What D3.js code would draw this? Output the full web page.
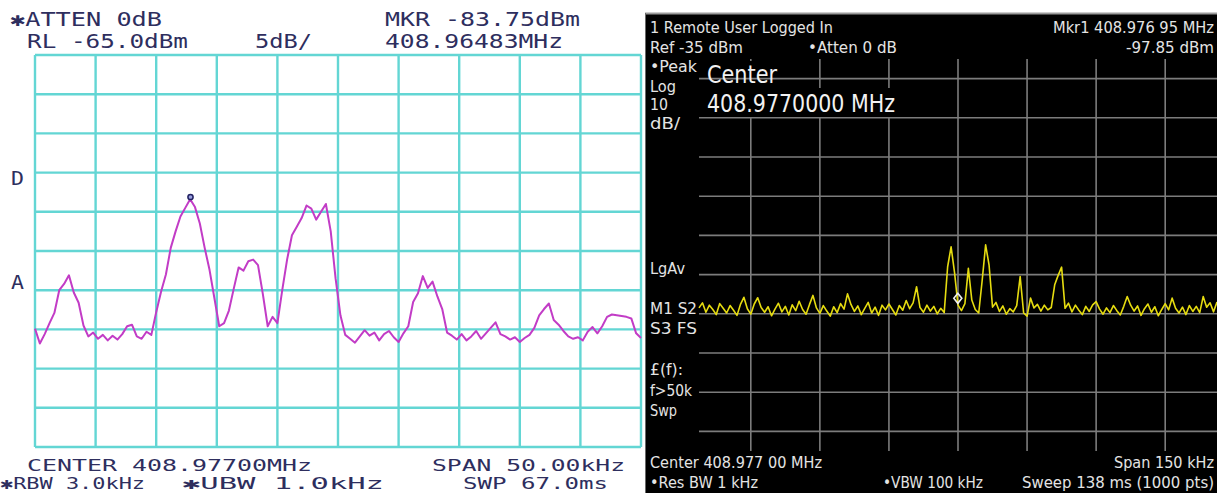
<!DOCTYPE html>
<html><head><meta charset="utf-8">
<script src="https://cdn.jsdelivr.net/npm/d3@7"></script>
<style>html,body{margin:0;padding:0;background:#fff;overflow:hidden}</style>
</head><body>
<svg id="c" width="1217" height="493"></svg>
<script>
// ---------- DATA ----------
// Left analyzer: span 50 kHz around 408.977 MHz, sampled every 0.4 kHz, level in dBm
const leftStartKHz = -25, leftStepKHz = 0.4;
const leftLevels = [
 -99.9,-101.8,-100.6,-99.2,-97.9,-95.0,-94.2,-93.1,-95.3,-96.6,
 -99.5,-100.9,-100.4,-101.2,-100.7,-101.4,-100.8,-101.3,-100.6,-99.6,
 -99.4,-100.9,-101.2,-100.3,-100.7,-97.8,-95.2,-93.0,-89.6,-87.5,
 -85.6,-84.5,-83.4,-84.4,-86.5,-89.6,-92.4,-96.0,-99.6,-99.2,
 -97.6,-94.8,-92.1,-92.5,-91.3,-91.1,-91.8,-95.5,-99.6,-98.4,
 -99.2,-95.0,-91.1,-88.0,-86.9,-85.8,-84.2,-84.6,-86.0,-85.0,
 -84.0,-87.5,-93.5,-98.2,-100.7,-101.2,-101.7,-100.9,-100.1,-100.8,
 -100.4,-101.4,-100.6,-100.2,-101.0,-101.6,-100.5,-99.6,-96.5,-95.4,
 -93.2,-94.7,-93.9,-95.8,-97.4,-100.4,-100.8,-101.3,-100.6,-101.4,
 -100.9,-100.2,-101.2,-100.5,-99.8,-99.1,-100.6,-100.9,-101.3,-101.0,
 -101.6,-101.1,-100.7,-99.8,-98.2,-97.4,-96.7,-98.8,-99.4,-100.2,
 -100.9,-101.2,-101.0,-101.4,-100.3,-99.7,-100.5,-99.6,-98.4,-98.1,
 -98.2,-98.3,-98.4,-98.6,-100.5,-101.1];
const leftMarkerKHz = -12.17, leftMarkerDbm = -83.75;
const leftRefDbm = -65, leftDbPerDiv = 5;

// Right analyzer: span 150 kHz around 408.977 MHz, sampled every 1 kHz, level in dBm
const rightStartKHz = -75, rightStepKHz = 1;
const rightLevels = [
 -98.5,-97.2,-99.6,-97.8,-98.9,-100.2,-97.4,-98.6,-99.8,-97.9,
 -99.1,-100.4,-97.6,-95.8,-98.7,-100.1,-97.5,-95.9,-98.4,-99.6,
 -98.2,-100.5,-98.8,-97.3,-99.5,-98.1,-100.3,-97.7,-99.2,-96.8,
 -98.9,-100.1,-97.6,-95.3,-98.5,-99.9,-97.9,-99.3,-100.6,-98.2,
 -99.7,-97.4,-98.8,-94.9,-97.6,-99.4,-98.0,-100.2,-98.6,-97.1,
 -99.8,-98.3,-100.4,-97.8,-99.0,-97.5,-98.9,-100.3,-97.9,-99.1,
 -96.6,-98.7,-97.2,-93.1,-98.4,-99.6,-97.8,-99.3,-98.1,-100.0,
 -98.6,-99.7,-88.0,-82.9,-89.5,-97.8,-99.2,-97.4,-88.4,-96.5,
 -98.9,-99.8,-91.5,-82.4,-87.6,-98.3,-97.1,-99.4,-98.0,-100.1,
 -98.7,-99.5,-97.9,-90.5,-99.8,-100.6,-96.0,-98.5,-97.6,-99.3,
 -97.8,-99.0,-98.4,-92.6,-90.2,-88.1,-98.6,-97.3,-99.5,-97.8,
 -99.1,-100.2,-98.1,-99.4,-97.7,-96.9,-98.8,-100.1,-98.5,-99.7,
 -97.9,-99.2,-100.3,-98.1,-95.6,-97.8,-99.3,-98.0,-100.4,-98.7,
 -97.5,-99.6,-98.2,-100.5,-98.9,-97.4,-99.0,-96.0,-98.6,-99.8,
 -98.3,-100.2,-97.9,-99.4,-98.1,-99.7,-95.6,-98.3,-97.2,-99.5,
 -97.0];
const rightMarkerKHz = -0.05, rightMarkerDbm = -97.85;
const rightRefDbm = -35, rightDbPerDiv = 10;

// Texts
const leftTopTexts = [
 ["✱ATTEN 0dB", 10, 26, 152], ["RL -65.0dBm", 27, 48, 161], ["5dB/", 255, 48, 57],
 ["MKR -83.75dBm", 385, 26, 195], ["408.96483MHz", 385, 48, 178],
 ["D", 11, 185, 13], ["A", 11, 289, 13]];
const leftBottomTexts = [
 ["CENTER 408.97700MHz", 27, 471, 285], ["SPAN 50.00kHz", 432, 471, 193],
 ["✱RBW 3.0kHz", 0, 489, 145], ["✱UBW 1.0kHz", 182, 489, 202], ["SWP 67.0ms", 463, 489, 145]];
const rightTexts = [
 ["1 Remote User Logged In", 650, 33, 183], ["Mkr1  408.976 95 MHz", 1053, 33, 161],
 ["Ref -35 dBm", 650, 53, 93], ["•Atten 0 dB", 808, 53, 89], ["-97.85 dBm", 1126, 53, 88],
 ["•Peak", 650, 72, 47], ["Log", 650, 92, 26], ["10", 650, 110, 18], ["dB/", 650, 129, 30],
 ["LgAv", 650, 274, 35], ["M1  S2", 650, 314, 47], ["S3  FS", 650, 334, 47],
 ["£(f):", 650, 375, 33], ["f>50k", 650, 396, 42], ["Swp", 650, 416, 27],
 ["Center 408.977 00 MHz", 650, 468, 172], ["Span 150 kHz", 1114, 468, 100],
 ["•Res BW 1 kHz", 650, 488, 108], ["•VBW 100 kHz", 883, 488, 100],
 ["Sweep 138 ms (1000 pts)", 1022, 488, 192]];
const centerBoxTexts = [["Center", 707, 83, 70], ["408.9770000 MHz", 707, 112, 188]];

// ---------- DRAW ----------
const svg = d3.select("#c");
function addText(g, arr, size, fill, family, weight) {
  g.selectAll(null).data(arr).enter().append("text")
    .attr("x", d => d[1]).attr("y", d => d[2])
    .attr("textLength", d => d[3]).attr("lengthAdjust", "spacingAndGlyphs")
    .attr("font-family", family).attr("font-size", size).attr("fill", fill)
    .attr("font-weight", weight || "normal")
    .text(d => d[0]);
}

// Left panel
const xL = d3.scaleLinear().domain([-25, 25]).range([35, 641]);
const yL = d3.scaleLinear().domain([leftRefDbm - 10 * leftDbPerDiv, leftRefDbm]).range([447, 55]);
const gL = svg.append("g");
gL.append("rect").attr("x", 0).attr("y", 0).attr("width", 645).attr("height", 493).attr("fill", "#fff");
const gridCol = "#63d6d4";
gL.selectAll("line.v").data(xL.ticks(10)).enter().append("line")
  .attr("x1", d => xL(d)).attr("x2", d => xL(d)).attr("y1", yL.range()[1]).attr("y2", yL.range()[0])
  .attr("stroke", gridCol).attr("stroke-width", 2.4);
gL.selectAll("line.h").data(yL.ticks(10)).enter().append("line")
  .attr("y1", d => yL(d)).attr("y2", d => yL(d)).attr("x1", xL.range()[0]).attr("x2", xL.range()[1])
  .attr("stroke", gridCol).attr("stroke-width", 2.4);
const leftData = leftLevels.map((v, i) => [leftStartKHz + i * leftStepKHz, v]);
gL.append("path").datum(leftData)
  .attr("d", d3.line().x(d => xL(d[0])).y(d => yL(d[1])))
  .attr("fill", "none").attr("stroke", "#c23cc6").attr("stroke-width", 2).attr("stroke-linejoin", "round");
gL.append("circle").attr("cx", xL(leftMarkerKHz)).attr("cy", yL(leftMarkerDbm) - 5).attr("r", 2.6)
  .attr("fill", "#9aa0e0").attr("stroke", "#202060").attr("stroke-width", 1.5);
addText(gL, leftTopTexts, 19, "#2e2e5e", "'DejaVu Sans Mono', monospace");
addText(gL, leftBottomTexts, 16, "#2e2e5e", "'DejaVu Sans Mono', monospace");

// Right panel
const xR = d3.scaleLinear().domain([-75, 75]).range([699, 1217]);
const yR = d3.scaleLinear().domain([rightRefDbm - 10 * rightDbPerDiv, rightRefDbm]).range([451, 59]);
const gR = svg.append("g");
gR.append("rect").attr("x", 645).attr("y", 14).attr("width", 572).attr("height", 479).attr("fill", "#000");
gR.append("line").attr("x1", 645).attr("x2", 1217).attr("y1", 13.5).attr("y2", 13.5).attr("stroke", "#9a9a9a").attr("stroke-width", 2);
gR.append("line").attr("x1", 645.5).attr("x2", 645.5).attr("y1", 13).attr("y2", 493).attr("stroke", "#6a6a6a").attr("stroke-width", 1);
const gridR = "#7c7c7c";
gR.selectAll("line.v").data(xR.ticks(10)).enter().append("line")
  .attr("x1", d => xR(d)).attr("x2", d => xR(d)).attr("y1", yR.range()[1]).attr("y2", yR.range()[0])
  .attr("stroke", gridR).attr("stroke-width", 1.6);
// black label box over grid
gR.append("rect").attr("x", 701).attr("y", 61).attr("width", 99).attr("height", 30).attr("fill", "#000");
gR.append("rect").attr("x", 706).attr("y", 88).attr("width", 188).attr("height", 29).attr("fill", "#000");
gR.selectAll("line.h").data(yR.ticks(10)).enter().append("line")
  .attr("y1", d => yR(d)).attr("y2", d => yR(d)).attr("x1", xR.range()[0]).attr("x2", xR.range()[1])
  .attr("stroke", gridR).attr("stroke-width", 1.6)
  .attr("stroke-dasharray", d => Math.abs(yR(d) - 98) < 3 ? "7,188,1000" : null);
const rightData = rightLevels.map((v, i) => [rightStartKHz + i * rightStepKHz, v]);
gR.append("path").datum(rightData)
  .attr("d", d3.line().x(d => xR(d[0])).y(d => yR(d[1])))
  .attr("fill", "none").attr("stroke", "#e6dc10").attr("stroke-width", 1.6).attr("stroke-linejoin", "round");
const mx = xR(rightMarkerKHz), my = yR(rightMarkerDbm) - 7;
gR.append("path").attr("d", `M${mx},${my - 5}L${mx + 4},${my}L${mx},${my + 5}L${mx - 4},${my}Z`)
  .attr("fill", "none").attr("stroke", "#f0f0f0").attr("stroke-width", 1.6);
addText(gR, rightTexts, 15, "#e4e4e4", "'DejaVu Sans', sans-serif");
addText(gR, centerBoxTexts, 24, "#f2f2f2", "'DejaVu Sans', sans-serif");
</script>
</body></html>
